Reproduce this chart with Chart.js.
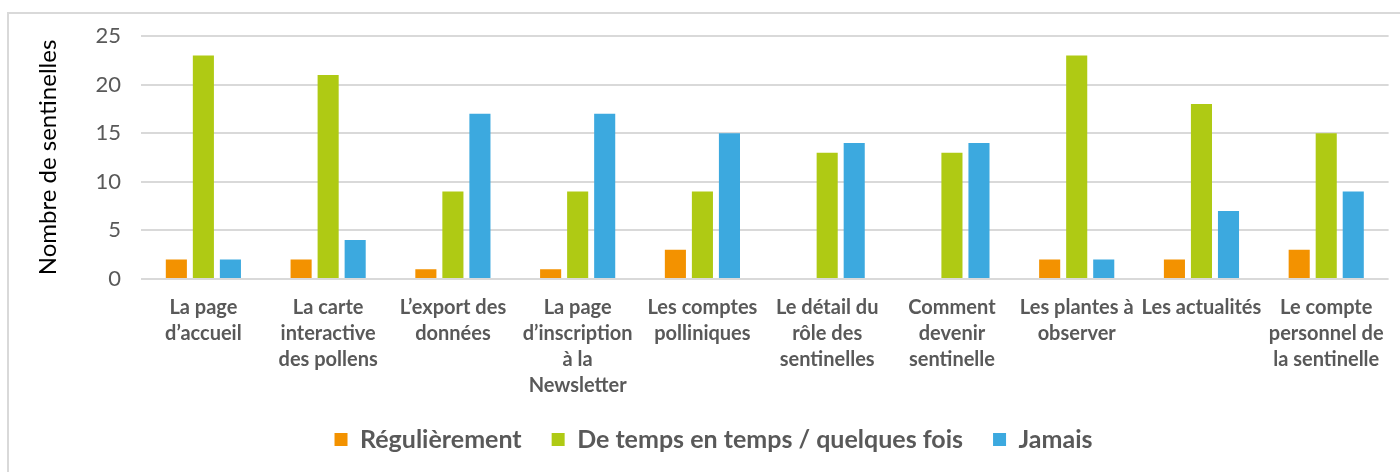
<!DOCTYPE html>
<html>
<head>
<meta charset="utf-8">
<script src="https://cdn.jsdelivr.net/npm/chart.js@4.4.0/dist/chart.umd.min.js"></script>
<style>
  html, body { margin: 0; padding: 0; background: #fff; overflow: hidden; }
  .frame {
    position: absolute; left: 7px; top: 12px; width: 1420px; height: 490px;
    border: 2px solid #d9d9d9; box-sizing: border-box;
  }
  .wrap { position: absolute; left: 0; top: 0; width: 1400px; height: 462px; }
</style>
</head>
<body>
<div class="frame"></div>
<div class="wrap"><canvas id="chart"></canvas></div>
<script>
const categories = [
    ["La page", "d’accueil"],
    ["La carte", "interactive", "des pollens"],
    ["L’export des", "données"],
    ["La page", "d’inscription", "à la", "Newsletter"],
    ["Les comptes", "polliniques"],
    ["Le détail du", "rôle des", "sentinelles"],
    ["Comment", "devenir", "sentinelle"],
    ["Les plantes à", "observer"],
    ["Les actualités"],
    ["Le compte", "personnel de", "la sentinelle"],
];
const regulierement = [2, 2, 1, 1, 3, 0, 0, 2, 2, 3];
const deTempsEnTemps = [23, 21, 9, 9, 9, 13, 13, 23, 18, 15];
const jamais = [2, 4, 17, 17, 15, 14, 14, 2, 7, 9];
const seriesNames = ["Régulièrement", "De temps en temps / quelques fois", "Jamais"];
const colors = ["#f39200", "#afca14", "#3ca9df"];

const font = "Lato, 'Open Sans', sans-serif";

new Chart(document.getElementById("chart"), {
    type: "bar",
    data: {
        labels: categories,
        datasets: [regulierement, deTempsEnTemps, jamais].map((d, i) => ({
            label: seriesNames[i],
            data: d,
            backgroundColor: colors[i],
            borderWidth: 0,
            categoryPercentage: 0.65,
            barPercentage: 0.78,
        })),
    },
    options: {
        responsive: true,
        maintainAspectRatio: false,
        animation: false,
        layout: { padding: { left: 34, right: 7, top: 36, bottom: 0 } },
        plugins: {
            tooltip: { enabled: false },
            legend: {
                position: "bottom",
                labels: {
                    boxWidth: 13,
                    boxHeight: 13,
                    padding: 30,
                    color: "#595959",
                    font: { family: font, size: 25, weight: "bold" },
                },
            },
        },
        scales: {
            x: {
                grid: { display: false, drawTicks: false },
                border: { display: false },
                ticks: {
                    color: "#595959",
                    padding: 16,
                    maxRotation: 0,
                    autoSkip: false,
                    font: { family: font, size: 20, weight: "bold", lineHeight: 1.3 },
                },
                afterFit: (scale) => { scale.height = 118; },
            },
            y: {
                min: 0,
                max: 25,
                ticks: {
                    stepSize: 5,
                    color: "#595959",
                    padding: 20,
                    font: { family: font, size: 22 },
                },
                grid: { color: "#d9d9d9", lineWidth: 2, drawTicks: false },
                border: { display: false },
                title: {
                    display: true,
                    text: "Nombre de sentinelles",
                    color: "#000",
                    padding: 0,
                    font: { family: font, size: 24, lineHeight: 1.2 },
                },
                afterFit: (scale) => { scale.width = 107; },
            },
        },
    },
});
</script>
</body>
</html>
